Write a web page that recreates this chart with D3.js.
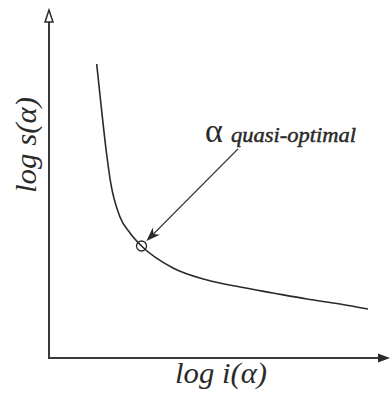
<!DOCTYPE html>
<html><head><meta charset="utf-8">
<script src="https://cdn.jsdelivr.net/npm/d3@7"></script>
<style>html,body{margin:0;padding:0;background:#fff;}svg{display:block;}</style>
</head><body>
<svg id="c" width="391" height="394"></svg>
<script>
// data (arbitrary log units 0..100)
const logI = [14.03, 15.15, 16.91, 18.15, 20.88, 23.82, 27.21, 36.47, 46.47, 56.18, 65.88, 75.88, 85.59, 93.82];
const logS = [84.48, 74.14, 58.91, 50.29, 40.52, 35.92, 32.18, 25.86, 22.41, 20.40, 18.68, 16.95, 15.52, 14.08];
const optimalIndex = 6;
const annotationStart = [55.6, 60.1];
const xLabel = "log i(α)";
const yLabel = "log s(α)";
const annoSymbol = "α";
const annoText = "quasi-optimal";

const svg = d3.select("#c");
const x = d3.scaleLinear().domain([0, 100]).range([49, 389]);
const y = d3.scaleLinear().domain([0, 100]).range([358, 10]);
const ink = "#2a2a2a";
const SERIF = '"Liberation Serif"';

// axes
svg.append("line").attr("x1", x(0)).attr("y1", y(0)).attr("x2", x(0)).attr("y2", y(100) + 11)
  .attr("stroke", "#3a3a3a").attr("stroke-width", 2);
svg.append("path")
  .attr("d", `M${x(0)},${y(100)} L${x(0)-4},${y(100)+12} L${x(0)+4},${y(100)+12} Z`)
  .attr("fill", "#fff").attr("stroke", ink).attr("stroke-width", 1.5).attr("stroke-linejoin", "miter");
svg.append("line").attr("x1", x(0) - 1).attr("y1", y(0)).attr("x2", x(100) - 8).attr("y2", y(0))
  .attr("stroke", "#3a3a3a").attr("stroke-width", 2);
svg.append("path")
  .attr("d", `M${x(100)+1},${y(0)} L${x(100)-11},${y(0)-4.5} L${x(100)-11},${y(0)+4.5} Z`)
  .attr("fill", ink);

// curve
const pts = logI.map((v, i) => [v, logS[i]]);
svg.append("path").datum(pts)
  .attr("d", d3.line().x(d => x(d[0])).y(d => y(d[1])).curve(d3.curveMonotoneX))
  .attr("fill", "none").attr("stroke", ink).attr("stroke-width", 1.6);

// optimal point
const cx = x(logI[optimalIndex]), cy = y(logS[optimalIndex]);
svg.append("circle").attr("cx", cx).attr("cy", cy).attr("r", 5)
  .attr("fill", "none").attr("stroke", ink).attr("stroke-width", 1.3);

// arrow
const sx = x(annotationStart[0]), sy = y(annotationStart[1]);
const dx = sx - cx, dy = sy - cy, L = Math.hypot(dx, dy);
const ux = dx / L, uy = dy / L;
const tx = cx + ux * 7, ty = cy + uy * 7;
svg.append("line").attr("x1", sx).attr("y1", sy).attr("x2", tx + ux * 8).attr("y2", ty + uy * 8)
  .attr("stroke", ink).attr("stroke-width", 1.3);
const ang = Math.atan2(-uy, -ux) * 180 / Math.PI;
svg.append("path")
  .attr("d", "M0,0 L-14,-5 L-10,0 L-14,5 Z")
  .attr("transform", `translate(${tx},${ty}) rotate(${ang})`)
  .attr("fill", ink);

// annotation text
svg.append("text").attr("x", 205).attr("y", 142)
  .style("font-family", SERIF).style("font-size", "34px").attr("fill", ink).text(annoSymbol);
svg.append("text").attr("x", 231).attr("y", 142)
  .style("font-family", SERIF).style("font-style", "italic").style("font-size", "20px")
  .attr("stroke", ink).attr("stroke-width", 0.45)
  .attr("textLength", 125).attr("lengthAdjust", "spacingAndGlyphs")
  .attr("fill", ink).text(annoText);

// axis labels
svg.append("text").attr("x", 221).attr("y", 383).attr("text-anchor", "middle")
  .style("font-family", SERIF).style("font-style", "italic").style("font-size", "29px")
  .attr("textLength", 92).attr("lengthAdjust", "spacingAndGlyphs")
  .attr("fill", ink).text(xLabel);
svg.append("text").attr("transform", "translate(36,145) rotate(-90)").attr("text-anchor", "middle")
  .style("font-family", SERIF).style("font-style", "italic").style("font-size", "29px")
  .attr("textLength", 96).attr("lengthAdjust", "spacingAndGlyphs")
  .attr("fill", ink).text(yLabel);
</script>
</body></html>
